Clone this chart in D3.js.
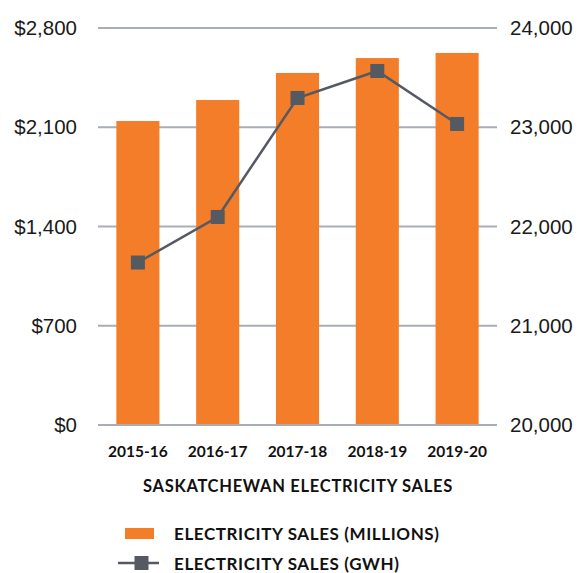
<!DOCTYPE html>
<html>
<head>
<meta charset="utf-8">
<script src="https://cdn.jsdelivr.net/npm/d3@7"></script>
<style>
  html, body { margin: 0; padding: 0; background: #fff; }
  svg { display: block; font-family: "Century Gothic", "Lato", "DejaVu Sans", sans-serif; }
</style>
</head>
<body>
<div id="chart"></div>
<script>
/* ═══ Saskatchewan electricity sales — bars + line on dual axis ═══ */

const years = ['2015-16', '2016-17', '2017-18', '2018-19', '2019-20'];
const salesMillions = [2144, 2292, 2483, 2588, 2624];
const salesGwh = [21637, 22096, 23295, 23567, 23033];
const leftTicks = [0, 700, 1400, 2100, 2800];
const rightTicks = [20000, 21000, 22000, 23000, 24000];

const W = 578, H = 573;
const M = { left: 98, right: 81, top: 28, bottom: 148 };

const ORANGE = '#f47d2a';
const SLATE = '#555962';
const GRID = '#a9adb5';

const svg = d3.select('#chart').append('svg')
  .attr('width', W).attr('height', H);

const x = d3.scaleBand().domain(years)
  .range([M.left, W - M.right]).paddingInner(0.46).paddingOuter(0.23);
const yL = d3.scaleLinear().domain([0, 2800]).range([H - M.bottom, M.top]);
const yR = d3.scaleLinear().domain([20000, 24000]).range([H - M.bottom, M.top]);

// ── Gridlines ──
svg.append('g').selectAll('line').data(leftTicks).join('line')
  .attr('x1', M.left).attr('x2', W - M.right)
  .attr('y1', d => yL(d)).attr('y2', d => yL(d))
  .attr('stroke', GRID).attr('stroke-width', 2);

// ── Left axis ──
const axL = svg.append('g')
  .attr('transform', `translate(${M.left - 21},0)`)
  .call(d3.axisLeft(yL).tickValues(leftTicks).tickSize(0).tickPadding(0)
    .tickFormat(d => '$' + d3.format(',')(d)));
axL.select('.domain').remove();
axL.selectAll('text').attr('font-size', 20.5).attr('fill', '#1a1a1a')
  .attr('font-family', 'inherit');

// ── Right axis ──
const axR = svg.append('g')
  .attr('transform', `translate(${W - M.right + 13},0)`)
  .call(d3.axisRight(yR).tickValues(rightTicks).tickSize(0).tickPadding(0)
    .tickFormat(d3.format(',')));
axR.select('.domain').remove();
axR.selectAll('text').attr('font-size', 20.5).attr('fill', '#1a1a1a')
  .attr('font-family', 'inherit');

// ── Bars ──
svg.append('g').selectAll('rect').data(years).join('rect')
  .attr('x', d => x(d)).attr('width', x.bandwidth())
  .attr('y', (d, i) => yL(salesMillions[i]))
  .attr('height', (d, i) => yL(0) - yL(salesMillions[i]))
  .attr('fill', ORANGE);

// baseline redrawn on top of bars
svg.append('line')
  .attr('x1', M.left).attr('x2', W - M.right)
  .attr('y1', yL(0)).attr('y2', yL(0))
  .attr('stroke', GRID).attr('stroke-width', 2);

// ── Line + square markers ──
const cx = d => x(d) + x.bandwidth() / 2;
const line = d3.line().x(d => cx(d)).y((d, i) => yR(salesGwh[i]));
svg.append('path').datum(years)
  .attr('d', line).attr('fill', 'none')
  .attr('stroke', SLATE).attr('stroke-width', 2.5);

svg.append('g').selectAll('rect').data(years).join('rect')
  .attr('x', d => cx(d) - 7).attr('width', 14)
  .attr('y', (d, i) => yR(salesGwh[i]) - 7).attr('height', 14)
  .attr('fill', SLATE);

// ── X category labels ──
svg.append('g').selectAll('text').data(years).join('text')
  .attr('x', d => cx(d)).attr('y', 451)
  .attr('text-anchor', 'middle').attr('dominant-baseline', 'central')
  .attr('font-size', 15.5).attr('font-weight', 700).attr('fill', '#111')
  .text(d => d);

// ── Title ──
svg.append('text')
  .attr('x', 298).attr('y', 486)
  .attr('text-anchor', 'middle').attr('dominant-baseline', 'central')
  .attr('font-size', 16.5).attr('font-weight', 700).attr('fill', '#111')
  .attr('letter-spacing', 0.7)
  .text('SASKATCHEWAN ELECTRICITY SALES');

// ── Legend ──
const leg = svg.append('g');
leg.append('rect').attr('x', 125).attr('y', 528).attr('width', 29).attr('height', 11)
  .attr('fill', ORANGE);
leg.append('text').attr('x', 174).attr('y', 533.5).attr('dominant-baseline', 'central')
  .attr('font-size', 17).attr('font-weight', 700).attr('fill', '#111')
  .attr('letter-spacing', 0.6)
  .text('ELECTRICITY SALES (MILLIONS)');

leg.append('line').attr('x1', 118).attr('x2', 159).attr('y1', 563).attr('y2', 563)
  .attr('stroke', SLATE).attr('stroke-width', 2.5);
leg.append('rect').attr('x', 134.5).attr('y', 556).attr('width', 14).attr('height', 14)
  .attr('fill', SLATE);
leg.append('text').attr('x', 174).attr('y', 563).attr('dominant-baseline', 'central')
  .attr('font-size', 17).attr('font-weight', 700).attr('fill', '#111')
  .attr('letter-spacing', 0.6)
  .text('ELECTRICITY SALES (GWH)');
</script>
</body>
</html>
